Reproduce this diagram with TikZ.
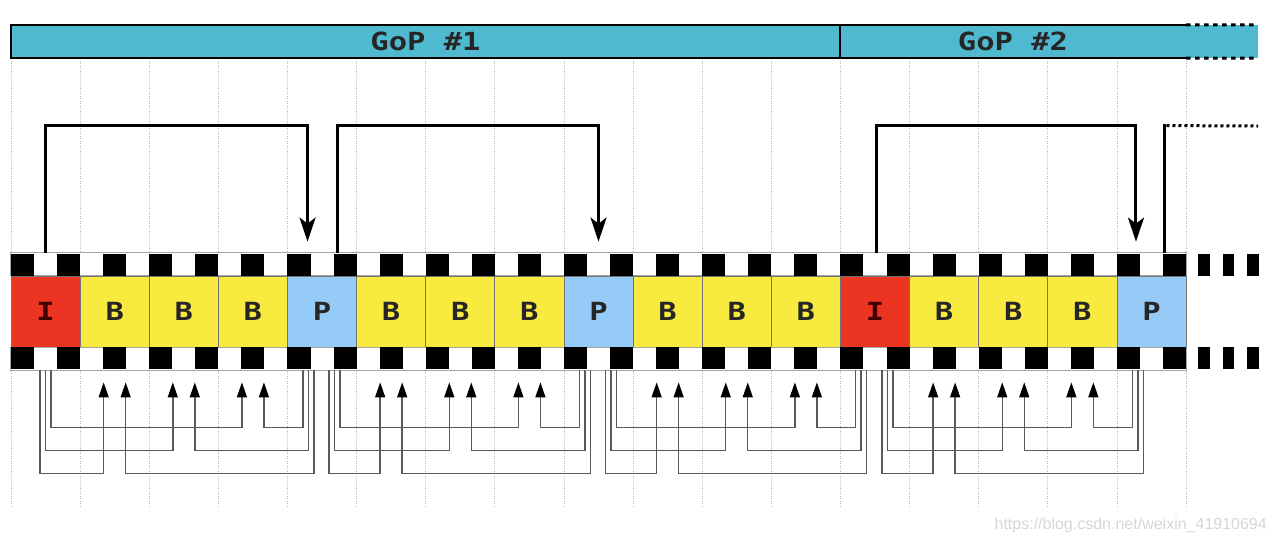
\documentclass[tikz,border=0pt]{standalone}
\usepackage{fontspec}
\setmainfont{Liberation Sans}
\newfontfamily\framefont{DejaVu Sans Mono}[FakeStretch=1.22]
\usetikzlibrary{calc,arrows.meta}

\definecolor{gopcyan}{HTML}{4FB9D0}
\definecolor{icol}{HTML}{EB3421}
\definecolor{bcol}{HTML}{F9EA3F}
\definecolor{pcol}{HTML}{96CAF7}
\definecolor{refgray}{HTML}{5A5A5A}

\begin{document}
\begin{tikzpicture}[x=1pt,y=-1pt]
\tikzset{
  frm/.style={minimum width=69.12pt,minimum height=71pt,inner sep=0pt,draw=black!55,line width=.8pt,
    font=\framefont\bfseries\fontsize{25}{25}\selectfont,text=black!85},
  frI/.style={frm,fill=icol,text=black!75!red},
  frB/.style={frm,fill=bcol},
  frP/.style={frm,fill=pcol},
  gopbar/.style={fill=gopcyan,minimum height=33pt,inner sep=0pt,
    font=\framefont\bfseries\fontsize{25}{25}\selectfont,text=black!85},
  barline/.style={line width=2.5pt,line cap=rect},
  grid/.style={gray!55,line width=.8pt,dash pattern=on 1pt off 1.5pt},
  rowline/.style={gray!70,line width=.8pt,fill=white},
  refarrow/.style={line width=3pt,-{Stealth[length=24pt,width=16pt,inset=6pt]}},
  subref/.style={refgray,line width=1.4pt,-{Triangle[length=15pt,width=10pt,color=black]}}
}
\useasboundingbox (0,0) rectangle (1276,544);

% frame grid
\foreach \k in {0,...,17}
  \draw[grid] ({11+\k*69.12},58) -- ({11+\k*69.12},507);

% GoP bar
\node[gopbar,minimum width=829pt] (gop1) at (425.5,41.5) {GoP \#1};
\node[gopbar,minimum width=346pt] (gop2) at (1013,41.5) {GoP \#2};
\fill[gopcyan] (gop2.north east) rectangle (1258,58);
\draw[barline] (gop2.north east) -- (gop1.north west) -- (gop1.south west) -- (gop2.south east);
\draw[barline] (gop1.north east) -- (gop1.south east);
\draw[line width=3pt,dash pattern=on 4.5pt off 4.5pt] (gop2.north east) -- (1258,25);
\draw[line width=3pt,dash pattern=on 4.5pt off 4.5pt] (gop2.south east) -- (1258,58);

% film strip
\foreach \t [count=\k from 0] in {I,B,B,B,P,B,B,B,P,B,B,B,I,B,B,B,P}
  \node[fr\t] (f\k) at ({45.56+\k*69.12},311.5) {\t};
\draw[rowline] ($(f0.north west)+(0,-23)$) rectangle (f16.north east);
\draw[rowline] (f0.south west) rectangle ($(f16.south east)+(0,23)$);
\foreach \i in {0,2,...,50}{
  \fill ({11+\i*23.04},254) rectangle ++(23.04,22);
  \fill ({11+\i*23.04},347) rectangle ++(23.04,22);
}
\foreach \x in {1198,1222.5,1247}{
  \fill (\x,254) rectangle ++(11.5,22);
  \fill (\x,347) rectangle ++(11.5,22);
}

% references above
\draw[refarrow] ($(f0.north)+(0,-23)$) |- ($(f4.north)+(-14.5,-150)$) -- ($(f4.north)+(-14.5,-34)$);
\draw[refarrow] ($(f4.north)+(15.5,-23)$) |- ($(f8.north)+(0,-150)$) -- ($(f8.north)+(0,-34)$);
\draw[refarrow] ($(f12.north)+(1,-23)$) |- ($(f16.north)+(-15.5,-150)$) -- ($(f16.north)+(-15.5,-34)$);
\coordinate (next) at (1258,126);
\draw[line width=3pt] ($(f16.north)+(13.5,-23)$) |- ($(f16.north)+(15,-150)$);
\draw[line width=3pt,dash pattern=on 3pt off 3pt] ($(f16.north)+(15,-150)$) -- (next);

% references below
\foreach \s/\so/\b/\d/\do in {0/0/1/4/-13.5, 4/12.5/5/8/-13.5, 8/12.5/9/12/-14, 12/12.5/13/16/-13.5}{
  \foreach \j/\lv in {0/126,1/103,2/80}{
    \pgfmathtruncatemacro{\t}{\b+\j}
    \draw[subref] ($(f\s.south)+({\so+(\j-1)*5.5},23)$) |- ($(f\t.south)+(-11,\lv)$) -- ($(f\t.south)+(-11,35)$);
    \draw[subref] ($(f\d.south)+({\do-(\j-1)*5.5},23)$) |- ($(f\t.south)+(11,\lv)$) -- ($(f\t.south)+(11,35)$);
  }
}

\node[font=\fontsize{16}{16}\selectfont,text=black!16,anchor=east,inner sep=0pt] (mark) at (1267,525) {https://blog.csdn.net/weixin\_41910694};
\end{tikzpicture}
\end{document}
